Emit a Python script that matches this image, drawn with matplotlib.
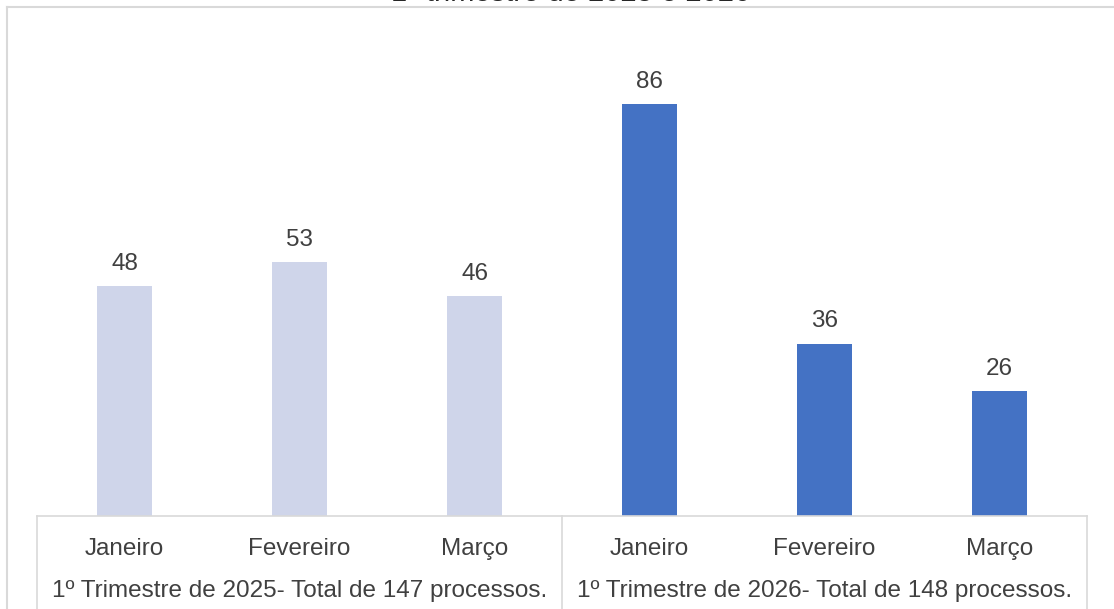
import matplotlib
matplotlib.use("Agg")
import matplotlib.pyplot as plt
from matplotlib.lines import Line2D
from matplotlib.transforms import blended_transform_factory

plt.rcParams["font.family"] = ["Liberation Sans", "DejaVu Sans"]

# Data
months = ["Janeiro", "Fevereiro", "Março", "Janeiro", "Fevereiro", "Março"]
values = [48, 53, 46, 86, 36, 26]
groups = ["1º Trimestre de 2025- Total de 147 processos.",
          "1º Trimestre de 2026- Total de 148 processos."]
title = "1º trimestre de 2025 e 2026"

light = "#CFD5EA"
blue = "#4472C4"
grid_col = "#D9D9D9"
text_col = "#404040"
colors = [light] * 3 + [blue] * 3
fs = 17.5

W, H = 1114, 609
fig = plt.figure(figsize=(W / 100, H / 100), dpi=100)

# axes placed in pixel units
x0, x1, ytop, ybot = 37, 1087, 37, 516
ax = fig.add_axes([x0 / W, 1 - ybot / H, (x1 - x0) / W, (ybot - ytop) / H])

xs = list(range(len(values)))
bars = ax.bar(xs, values, width=0.314, color=colors)
ax.set_xlim(-0.5, len(values) - 0.5)
ax.set_ylim(0, 100)

for b, v in zip(bars, values):
    ax.annotate(str(v), (b.get_x() + b.get_width() / 2, v),
                xytext=(0, 8), textcoords="offset points",
                ha="center", va="bottom", fontsize=fs, color=text_col)

for s in ["top", "right", "left"]:
    ax.spines[s].set_visible(False)
ax.spines["bottom"].set_color(grid_col)
ax.spines["bottom"].set_linewidth(1.2)
ax.set_xticks([])
ax.set_yticks([])

# category labels (two levels)
tr = blended_transform_factory(ax.transData, fig.transFigure)
for x, m in zip(xs, months):
    ax.text(x, 1 - 549 / H, m, transform=tr, ha="center", va="center",
            fontsize=fs, color=text_col)
for i, g in enumerate(groups):
    ax.text(1 + 3 * i, 1 - 591 / H, g, transform=tr, ha="center",
            va="center", fontsize=fs, color=text_col)

# group separators
for xv in [-0.5, 2.5, 5.5]:
    ax.add_line(Line2D([xv, xv], [1 - ybot / H, 0], transform=tr,
                       color=grid_col, lw=1.2, clip_on=False))

# chart area border (left and top)
fig.add_artist(Line2D([7 / W, 7 / W], [0, 1 - 7 / H], color=grid_col,
                      lw=1.5, transform=fig.transFigure))
fig.add_artist(Line2D([7 / W, 1], [1 - 7 / H, 1 - 7 / H], color=grid_col,
                      lw=1.5, transform=fig.transFigure))

# title, mostly above the visible area (cut off as in the source)
fig.text(571 / W, 1 - 1 / H, title, ha="center", va="baseline",
         fontsize=21, color="#262626")

fig.savefig("out.png", dpi=100)
